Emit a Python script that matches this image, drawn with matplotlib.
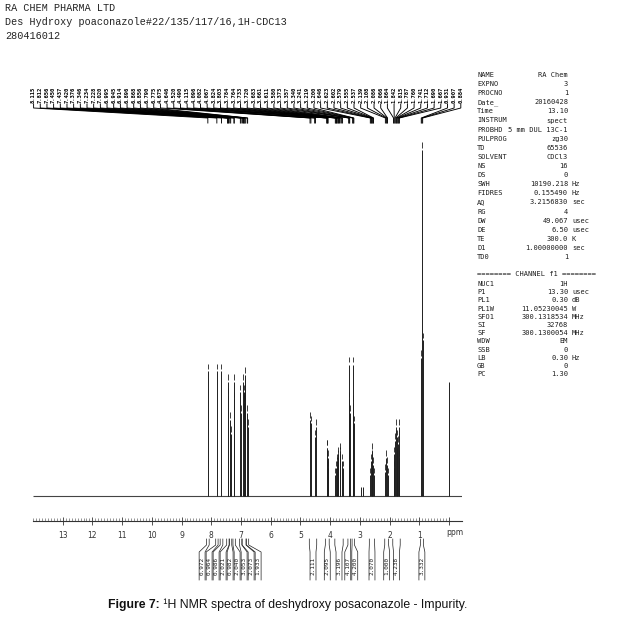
import numpy as np
import matplotlib.pyplot as plt

W, H = 622, 619

# picked peaks: ppm and relative intensity (tallest = 100)
peak_ppm = [8.115, 7.812, 7.656, 7.450, 7.437, 7.420, 7.376, 7.346, 7.234, 7.228,
            7.020, 6.995, 6.945, 6.914, 6.896, 6.868, 6.856, 6.790, 6.775,
            4.675, 4.646, 4.520, 4.490,
            4.115, 4.096, 4.082, 4.067,
            3.824, 3.803, 3.784, 3.764, 3.733, 3.720, 3.683, 3.661, 3.611, 3.580,
            3.373, 3.357, 3.340, 3.241, 3.219, 3.200,
            2.646, 2.623, 2.602, 2.579, 2.555, 2.537,
            2.139, 2.108, 2.086, 2.066,
            1.864, 1.842, 1.815, 1.787, 1.760, 1.741, 1.712, 1.690, 1.667,
            0.931, 0.907, 0.884]
peak_int = [36, 36, 36, 29, 33, 27, 22, 18, 33, 28,
            30, 24, 33, 27, 30, 35, 31, 24, 20,
            22, 21, 17, 20,
            14, 14, 11, 8,
            6, 8, 9, 10, 11, 12, 13, 12, 10, 8,
            28, 38, 24, 27, 38, 21,
            6, 10, 13, 11, 9, 6,
            7, 11, 9, 6,
            8, 12, 16, 20, 17, 14, 15, 20, 11,
            40, 100, 45]

# small peaks that are not picked (incl. TMS)
extra_ppm = [2.960, 2.885, 0.000]
extra_int = [2.6, 2.6, 33]

# integrals: region limits (ppm) and value
int_hi = [8.16, 7.85, 7.70, 7.48, 7.39, 7.27, 7.05, 6.96, 6.82,
          4.70, 4.16, 3.84, 3.40, 3.26, 2.68, 2.16, 1.89, 0.96]
int_lo = [8.07, 7.77, 7.61, 7.40, 7.31, 7.19, 6.97, 6.83, 6.74,
          4.45, 4.03, 3.56, 3.31, 3.18, 2.50, 2.03, 1.64, 0.86]
int_val = ["0.972", "0.964", "0.986", "2.021", "0.982", "2.040", "3.053", "2.073", "1.933",
           "2.111", "2.095", "3.196", "4.107", "4.200", "2.070", "1.000", "4.238", "3.332"]

par_names = ["NAME", "EXPNO", "PROCNO", "Date_", "Time", "INSTRUM", "PROBHD", "PULPROG",
             "TD", "SOLVENT", "NS", "DS", "SWH", "FIDRES", "AQ", "RG", "DW", "DE", "TE",
             "D1", "TD0"]
par_vals = ["RA Chem", "3", "1", "20160428", "13.10", "spect", "5 mm DUL 13C-1", "zg30",
            "65536", "CDCl3", "16", "0", "10190.218", "0.155490", "3.2156830", "4",
            "49.067", "6.50", "300.0", "1.00000000", "1"]
par_units = ["", "", "", "", "", "", "", "", "", "", "", "", "Hz", "Hz", "sec", "",
             "usec", "usec", "K", "sec", ""]

ch_names = ["NUC1", "P1", "PL1", "PL1W", "SFO1", "SI", "SF", "WDW", "SSB", "LB", "GB", "PC"]
ch_vals = ["1H", "13.30", "0.30", "11.05230045", "300.1318534", "32768", "300.1300054",
           "EM", "0", "0.30", "0", "1.30"]
ch_units = ["", "usec", "dB", "W", "MHz", "", "MHz", "", "", "Hz", "", ""]

header = ["RA CHEM PHARMA LTD",
          "Des Hydroxy poaconazole#22/135/117/16,1H-CDC13",
          "280416012"]

ink = "#1e1e1e"
XL, XR = 14.0, -0.44   # ppm at left / right edge of the plot


def px_axes(fig, x0, y0, x1, y1):
    return fig.add_axes([x0 / W, 1 - y1 / H, (x1 - x0) / W, (y1 - y0) / H])


fig = plt.figure(figsize=(W / 100, H / 100), dpi=100)

# ---- spectrum ----
ax = px_axes(fig, 33, 125, 462, 521)
scale = 3.46  # px per intensity unit
ax.set_xlim(XL, XR)
ax.set_ylim(-(521 - 496) / scale, (496 - 125) / scale)
ax.hlines(0, XL, XR, color="#444444", lw=0.8)
ax.vlines(peak_ppm, 0, peak_int, color=ink, lw=0.7)
ax.vlines(extra_ppm, 0, extra_int, color=ink, lw=0.7)
# peak pick marks
tops = np.array(peak_int)
ax.vlines(peak_ppm, tops + 0.6, tops + 2.2, color=ink, lw=0.6)

for s in ["left", "right", "top"]:
    ax.spines[s].set_visible(False)
ax.spines["bottom"].set_color("#333333")
ax.spines["bottom"].set_linewidth(0.8)
ax.set_yticks([])
ax.set_xticks(range(0, 14))
ax.set_xticklabels([""] + [str(i) for i in range(1, 14)])
ax.set_xticks(np.arange(0, 14.01, 0.1), minor=True)
ax.tick_params(axis="x", which="major", direction="inout", length=6, width=0.6,
               colors="#333333", labelsize=5.5, pad=4)
ax.tick_params(axis="x", which="minor", direction="in", length=2, width=0.4,
               colors="#444444")
ax.text(-0.2, -0.028, "ppm", transform=ax.get_xaxis_transform(), fontsize=5.5,
        color="#333333", ha="center", va="center")

# ---- peak labels with fan lines ----
fan = px_axes(fig, 33, 76, 462, 125)
fan.set_xlim(XL, XR)
fan.set_ylim(125, 76)
fan.axis("off")
label_x = np.linspace(XL - 0.02, XR + 0.04, len(peak_ppm))
for lx, p in zip(label_x, peak_ppm):
    fan.plot([lx, lx, p, p], [104, 108, 118, 123], color="black", lw=0.65)
    fan.text(lx, 103, f"{p:.3f}", rotation=90, ha="center", va="bottom",
             fontsize=4.0, family="DejaVu Sans Mono", color="black", weight="bold")

# ---- integrals ----
ia = px_axes(fig, 33, 536, 462, 584)
ia.set_xlim(XL, XR)
ia.set_ylim(584, 536)
ia.axis("off")
gap = 7 / 29.7   # min spacing of label columns, ppm
cols = [(h + l) / 2 for h, l in zip(int_hi, int_lo)]
for _ in range(200):
    for i in range(len(cols) - 1):
        d = cols[i] - cols[i + 1]
        if d < gap:
            shift = (gap - d) / 2
            cols[i] += shift
            cols[i + 1] -= shift
hw = 0.1
for h, l, c, v in zip(int_hi, int_lo, cols, int_val):
    ia.plot([h, h, c + hw, c + hw], [539, 545, 552, 580], color=ink, lw=0.5)
    ia.plot([l, l, c - hw, c - hw], [539, 545, 552, 580], color=ink, lw=0.5)
    ia.text(c, 566, v, rotation=90, ha="center", va="center", fontsize=4.3,
            family="DejaVu Sans Mono", color=ink)

# ---- header ----
for i, line in enumerate(header):
    fig.text(5 / W, 1 - (8 + 14 * i) / H, line, family="Liberation Mono", fontsize=7.3,
             color="#222222", va="center")

# ---- parameter table ----
def par_block(names, vals, units, y0, dy):
    for i, (n, v, u) in enumerate(zip(names, vals, units)):
        y = 1 - (y0 + dy * i) / H
        fig.text(477 / W, y, n, fontsize=5, family="DejaVu Sans Mono", color=ink, va="center")
        fig.text(568 / W, y, v, fontsize=5, family="DejaVu Sans Mono", color=ink,
                 va="center", ha="right")
        if u:
            fig.text(572 / W, y, u, fontsize=5, family="DejaVu Sans Mono", color=ink,
                     va="center")


par_block(par_names, par_vals, par_units, 75, 9.1)
fig.text(477 / W, 1 - 274 / H, "======== CHANNEL f1 ========", fontsize=5,
         family="DejaVu Sans Mono", color=ink, va="center")
par_block(ch_names, ch_vals, ch_units, 284, 8.2)

# ---- caption ----
t1 = fig.text(108 / W, 1 - 605 / H, "Figure 7:", fontsize=8.8, family="Liberation Sans",
              weight="bold", va="center", color="#111111")
ax.annotate(" \u00b9H NMR spectra of deshydroxy posaconazole - Impurity.",
            xy=(1, 0), xycoords=t1, va="bottom", ha="left", fontsize=8.8,
            family="Liberation Sans", color="#111111", annotation_clip=False)

fig.savefig("out.png", dpi=100)
